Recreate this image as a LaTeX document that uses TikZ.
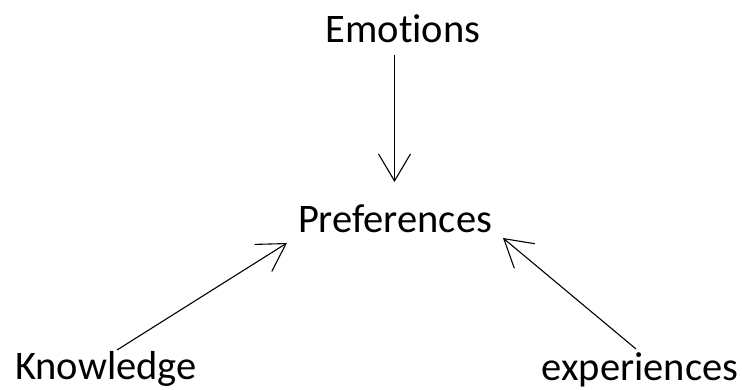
\documentclass[tikz,border=0pt]{standalone}
\usepackage{fontspec}
\setmainfont{Carlito}[Ligatures={NoCommon}]
\usetikzlibrary{arrows.meta}
\begin{document}
\begin{tikzpicture}[x=1pt,y=1pt,
  lbl/.style={inner sep=0pt, anchor=base, font=\fontsize{40.5}{48}\selectfont},
  conn/.style={line width=1.1pt, -{Straight Barb[length=27pt,width=32pt,line width=1.1pt]}}]
\useasboundingbox (0,0) rectangle (742,390);
\node[lbl] (emo) at (403,347) {Emotions};
\node[lbl] (pref) at (395,157) {Preferences};
\node[lbl] (know) at (106,10) {Knowledge};
\node[lbl] (exp) at (640,9) {experiences};
\draw[conn] ([shift={(-8.5,-12)}]emo.base) -- ([shift={(-0.5,51)}]pref.base);
\draw[conn] ([shift={(11,30)}]know.base) -- ([shift={(-108,-10)}]pref.base);
\draw[conn] ([shift={(-4,32)}]exp.base) -- ([shift={(108,-5)}]pref.base);
\end{tikzpicture}
\end{document}
